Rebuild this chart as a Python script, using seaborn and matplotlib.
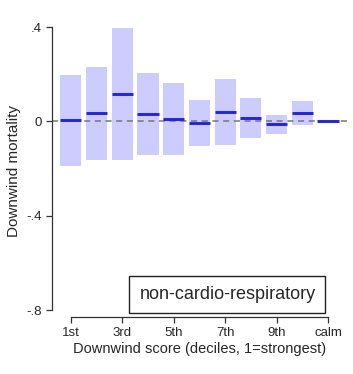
import matplotlib
matplotlib.use("Agg")
import matplotlib.pyplot as plt
import seaborn as sns
import numpy as np

# deciles of downwind score (1=strongest), last one is calm
positions = [1, 2, 3, 4, 5, 6, 7, 8, 9, 10, 11]
tick_pos = [1, 3, 5, 7, 9, 11]
tick_labels = ["1st", "3rd", "5th", "7th", "9th", "calm"]
estimate = [0.004, 0.036, 0.117, 0.033, 0.010, -0.006, 0.041, 0.016, -0.013, 0.036, 0.0]
ci_low = [-0.189, -0.162, -0.165, -0.141, -0.142, -0.105, -0.098, -0.069, -0.055, -0.016, 0.0]
ci_high = [0.196, 0.232, 0.398, 0.206, 0.163, 0.092, 0.178, 0.099, 0.028, 0.087, 0.0]

sns.set_style("ticks")
plt.rcParams["font.family"] = ["Liberation Sans", "DejaVu Sans"]

fig = plt.figure(figsize=(3.53, 3.74), dpi=100)
ax = fig.add_axes([0.147, 0.152, 0.836, 0.782])

low = np.array(ci_low)
high = np.array(ci_high)
ax.bar(positions, high - low, bottom=low, width=0.82, color="#ccccff", edgecolor="none", zorder=1)
ax.axhline(0, color="#777777", linestyle=(0, (4, 3)), linewidth=1.1, zorder=2)
ax.hlines(estimate, np.array(positions) - 0.41, np.array(positions) + 0.41,
          color="#2222ee", linewidth=2.1, zorder=3)

ax.set_xlim(0.26, 11.74)
ax.set_ylim(-0.83, 0.41)
ax.set_yticks([0.4, 0, -0.4, -0.8])
ax.set_yticklabels([".4", "0", "-.4", "-.8"], fontsize=9.5)
ax.set_xticks(tick_pos)
ax.set_xticklabels(tick_labels, fontsize=9.5)
ax.spines["top"].set_visible(False)
ax.spines["right"].set_visible(False)
ax.spines["left"].set_bounds(-0.8, 0.4)
ax.spines["bottom"].set_bounds(1, 11)
for s in ["left", "bottom"]:
    ax.spines[s].set_color("#333333")
    ax.spines[s].set_linewidth(0.9)
ax.tick_params(length=4, width=0.9, color="#333333", pad=3)

ax.set_xlabel("Downwind score (deciles, 1=strongest)", fontsize=10.5, labelpad=2)
ax.set_ylabel("Downwind mortality", fontsize=11, labelpad=4)

ax.text(7.09, -0.733, "non-cardio-respiratory", fontsize=13, ha="center", va="center",
        bbox=dict(boxstyle="square,pad=0.55", facecolor="white", edgecolor="#222222", linewidth=1))

fig.savefig("out.png", dpi=100)
